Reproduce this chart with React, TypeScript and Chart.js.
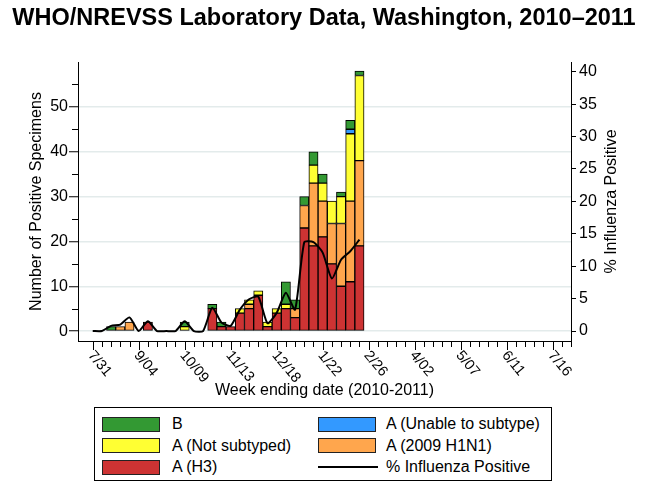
import { useEffect, useRef } from "react"
import { Chart, registerables } from "chart.js"

Chart.register(...registerables)

const FONT = "'Liberation Sans', Arial, Helvetica, sans-serif"

// week ending dates, 2010-2011
const weekLabels = [
  "7/31", "8/07", "8/14", "8/21", "8/28", "9/04", "9/11", "9/18", "9/25", "10/02",
  "10/09", "10/16", "10/23", "10/30", "11/06", "11/13", "11/20", "11/27", "12/04", "12/11",
  "12/18", "12/25", "1/01", "1/08", "1/15", "1/22", "1/29", "2/05", "2/12", "2/19",
  "2/26", "3/05", "3/12", "3/19", "3/26", "4/02", "4/09", "4/16", "4/23", "4/30",
  "5/07", "5/14", "5/21", "5/28", "6/04", "6/11", "6/18", "6/25", "7/02", "7/09",
  "7/16", "7/23", "7/30",
]

// positive specimens per week (reported weeks only, 7/31 .. 2/19)
const aH3 = [0, 0, 0, 0, 0, 0, 2, 0, 0, 0, 0, 0, 0, 5, 1, 1, 4, 5, 8, 1, 4, 5, 3, 23, 19, 21, 15, 10, 11, 19]
const aH1N1 = [0, 0, 0, 1, 2, 0, 0, 0, 0, 0, 0, 0, 0, 0, 0, 0, 0, 1, 0, 0, 0, 0, 2, 5, 14, 8, 9, 14, 18, 19]
const aNotSubtyped = [0, 0, 0, 0, 0, 0, 0, 0, 0, 0, 1, 0, 0, 0, 0, 0, 1, 1, 1, 1, 1, 1, 0, 0, 4, 4, 5, 6, 15, 19]
const aUnable = [0, 0, 0, 0, 0, 0, 0, 0, 0, 0, 0, 0, 0, 0, 0, 0, 0, 0, 0, 0, 0, 0, 0, 0, 0, 0, 0, 0, 1, 0]
const fluB = [0, 0, 1, 0, 0, 0, 0, 0, 0, 0, 1, 0, 0, 1, 1, 0, 0, 0, 0, 0, 0, 5, 2, 2, 3, 2, 0, 1, 2, 1]
const pctPositive = [0, 0, 0.8, 1.0, 2.1, 0, 1.5, 0, 0, 0, 1.5, 0, 0, 3.6, 1.3, 0.8, 3.3, 4.9, 5.3, 1.2, 2.8, 5.9, 3.3, 13.7, 13.7, 12.1, 8.1, 11.0, 12.3, 14.1]

const leftTicks = [0, 10, 20, 30, 40, 50]
const rightTicks = [0, 5, 10, 15, 20, 25, 30, 35, 40]

const COLORS = {
  b: "#339933",
  notSubtyped: "#ffff33",
  h3: "#cd3333",
  unable: "#3399ff",
  h1n1: "#ffa64d",
}

const legendItems = [
  { label: "B", color: COLORS.b, col: 0, row: 0 },
  { label: "A (Unable to subtype)", color: COLORS.unable, col: 1, row: 0 },
  { label: "A (Not subtyped)", color: COLORS.notSubtyped, col: 0, row: 1 },
  { label: "A (2009 H1N1)", color: COLORS.h1n1, col: 1, row: 1 },
  { label: "A (H3)", color: COLORS.h3, col: 0, row: 2 },
  { label: "% Influenza Positive", color: null, col: 1, row: 2 },
]

const toPoints = (arr: number[], keepZero = false) =>
  arr.map((v, i) => ({ x: i, y: v === 0 && !keepZero ? null : v }))

// draws week ticks, rotated date labels, minor y ticks, right axis title and the chart title
const decorPlugin = {
  id: "decor",
  afterDraw(chart: any) {
    const { ctx, chartArea } = chart
    const x = chart.scales.x
    const y = chart.scales.y
    ctx.save()
    ctx.strokeStyle = "#000"
    ctx.lineWidth = 1
    ctx.fillStyle = "#000"

    // x ticks
    weekLabels.forEach((lab, i) => {
      const px = Math.round(x.getPixelForValue(i)) + 0.5
      const long = i % 5 === 0
      ctx.beginPath()
      ctx.moveTo(px, chartArea.bottom)
      ctx.lineTo(px, chartArea.bottom + (long ? 9 : 6))
      ctx.stroke()
      if (long) {
        ctx.save()
        ctx.font = `14.5px ${FONT}`
        ctx.translate(px - 3, chartArea.bottom + 12)
        ctx.rotate((50 * Math.PI) / 180)
        ctx.textAlign = "left"
        ctx.textBaseline = "middle"
        ctx.fillText(lab, 0, 0)
        ctx.restore()
      }
    })

    // minor ticks on left axis
    for (let v = 5; v < 60; v += 10) {
      const py = Math.round(y.getPixelForValue(v)) + 0.5
      ctx.beginPath()
      ctx.moveTo(chartArea.left, py)
      ctx.lineTo(chartArea.left - 6, py)
      ctx.stroke()
    }

    // right axis title, reading bottom to top
    ctx.save()
    ctx.font = `16px ${FONT}`
    ctx.translate(612, (chartArea.top + chartArea.bottom) / 2)
    ctx.rotate(-Math.PI / 2)
    ctx.textAlign = "center"
    ctx.textBaseline = "middle"
    ctx.fillText("% Influenza Positive", 0, 0)
    ctx.restore()

    // main title
    ctx.font = `bold 23.5px ${FONT}`
    ctx.textAlign = "center"
    ctx.textBaseline = "middle"
    ctx.fillText("WHO/NREVSS Laboratory Data, Washington, 2010\u20132011", 324, 19)

    ctx.restore()
  },
}

function Legend() {
  return (
    <div
      style={{
        position: "absolute",
        left: 94,
        top: 407,
        width: 458,
        height: 74,
        border: "1px solid #000",
        background: "#fff",
        boxSizing: "border-box",
        fontFamily: FONT,
        fontSize: 16,
        color: "#000",
      }}
    >
      {legendItems.map((item) => {
        const swLeft = item.col === 0 ? 7 : 223
        const txtLeft = item.col === 0 ? 77 : 291
        const cy = 16 + item.row * 21.5
        return (
          <div key={item.label}>
            {item.color ? (
              <div
                style={{
                  position: "absolute",
                  left: swLeft,
                  top: cy - 7.5,
                  width: 58,
                  height: 15,
                  background: item.color,
                  border: "1px solid #222",
                  boxSizing: "border-box",
                }}
              />
            ) : (
              <div
                style={{
                  position: "absolute",
                  left: swLeft,
                  top: cy - 1,
                  width: 60,
                  height: 2,
                  background: "#000",
                }}
              />
            )}
            <div
              style={{
                position: "absolute",
                left: txtLeft,
                top: cy - 10,
                height: 20,
                lineHeight: "20px",
                whiteSpace: "nowrap",
              }}
            >
              {item.label}
            </div>
          </div>
        )
      })}
    </div>
  )
}

export default function App() {
  const chartRef = useRef<HTMLCanvasElement>(null)
  const chartInstance = useRef<Chart | null>(null)

  useEffect(() => {
    if (!chartRef.current) return
    if (chartInstance.current) chartInstance.current.destroy()

    const barBase = {
      type: "bar" as const,
      borderColor: "#000",
      borderWidth: 1,
      borderSkipped: false,
      barPercentage: 1,
      categoryPercentage: 1,
      yAxisID: "y",
      order: 1,
    }

    chartInstance.current = new Chart(chartRef.current, {
      type: "bar",
      data: {
        datasets: [
          {
            type: "line",
            label: "% Influenza Positive",
            data: toPoints(pctPositive, true),
            borderColor: "#000",
            borderWidth: 2,
            pointRadius: 0,
            tension: 0.2,
            yAxisID: "y1",
            order: 0,
          } as any,
          { ...barBase, label: "A (H3)", data: toPoints(aH3), backgroundColor: COLORS.h3 },
          { ...barBase, label: "A (2009 H1N1)", data: toPoints(aH1N1), backgroundColor: COLORS.h1n1 },
          { ...barBase, label: "A (Not subtyped)", data: toPoints(aNotSubtyped), backgroundColor: COLORS.notSubtyped },
          { ...barBase, label: "A (Unable to subtype)", data: toPoints(aUnable), backgroundColor: COLORS.unable },
          { ...barBase, label: "B", data: toPoints(fluB), backgroundColor: COLORS.b },
        ],
      },
      options: {
        animation: false,
        responsive: false,
        maintainAspectRatio: false,
        layout: { padding: { left: 0, right: 0, top: 62, bottom: 88 } },
        plugins: {
          legend: { display: false },
          title: { display: false },
          tooltip: { enabled: false },
        },
        scales: {
          x: {
            type: "linear",
            min: -1.6,
            max: 52,
            stacked: true,
            offset: false,
            grid: { display: true, drawOnChartArea: false, drawTicks: false, offset: false },
            border: { display: true, color: "#000", width: 1 },
            ticks: { display: false },
            title: {
              display: true,
              text: "Week ending date (2010-2011)",
              color: "#000",
              font: { family: FONT, size: 16 },
              padding: { top: 0, bottom: 4 },
            },
            afterFit: (scale: any) => {
              scale.height = 63
            },
          },
          y: {
            type: "linear",
            position: "left",
            min: -2.2,
            max: 60,
            stacked: true,
            afterBuildTicks: (scale: any) => {
              scale.ticks = leftTicks.map((v) => ({ value: v }))
            },
            grid: {
              color: "#e3ebeb",
              lineWidth: 1.5,
              tickColor: "#000",
              tickLength: 9,
              tickWidth: 1,
            },
            border: { display: true, color: "#000", width: 1 },
            ticks: { color: "#000", font: { family: FONT, size: 16 }, padding: 1 },
            title: {
              display: true,
              text: "Number of Positive Specimens",
              color: "#000",
              font: { family: FONT, size: 16 },
              padding: { top: 27, bottom: 0 },
            },
            afterFit: (scale: any) => {
              scale.width = 78
            },
          },
          y1: {
            type: "linear",
            position: "right",
            min: -1.54,
            max: 41.5,
            stacked: false,
            afterBuildTicks: (scale: any) => {
              scale.ticks = rightTicks.map((v) => ({ value: v }))
            },
            grid: { drawOnChartArea: false, tickColor: "#000", tickLength: 5, tickWidth: 1 },
            border: { display: true, color: "#000", width: 1 },
            ticks: { color: "#000", font: { family: FONT, size: 16 }, padding: 3 },
            afterFit: (scale: any) => {
              scale.width = 91
            },
          },
        },
      },
      plugins: [decorPlugin],
    })

    return () => {
      if (chartInstance.current) {
        chartInstance.current.destroy()
        chartInstance.current = null
      }
    }
  }, [])

  return (
    <div style={{ position: "absolute", left: 0, top: 0, width: 662, height: 492, background: "#fff" }}>
      <canvas ref={chartRef} width={662} height={492} style={{ width: 662, height: 492, display: "block" }} />
      <Legend />
    </div>
  )
}
